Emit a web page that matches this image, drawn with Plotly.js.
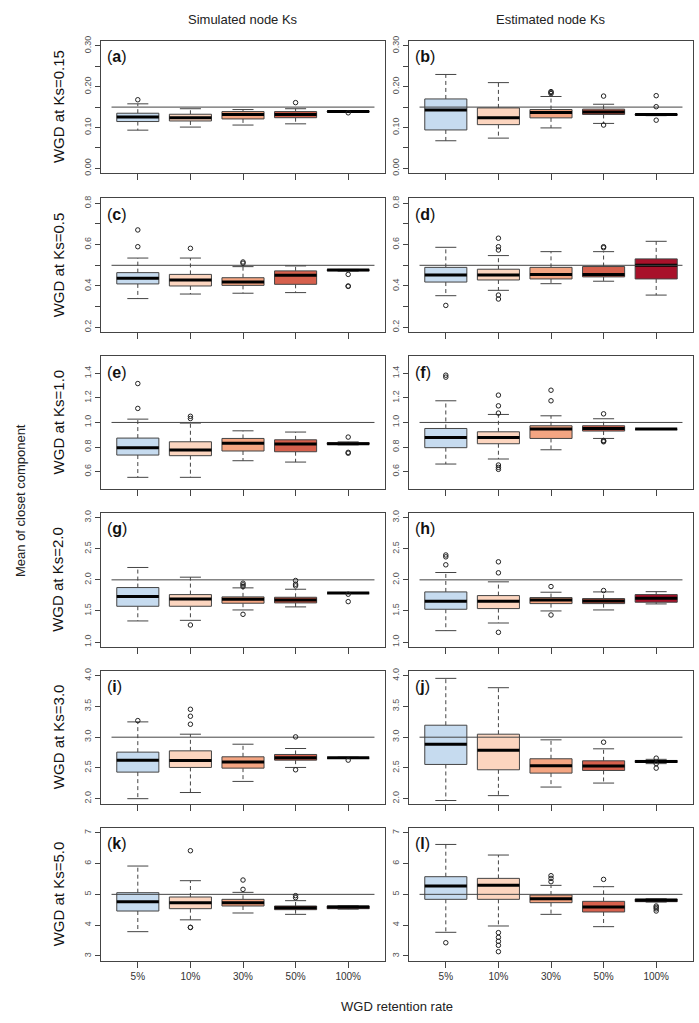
<!DOCTYPE html>
<html><head><meta charset="utf-8">
<script src="https://cdn.plot.ly/plotly-3.0.1.min.js"></script>
<style>html,body{margin:0;padding:0;background:#fff;} #plot{width:699px;height:1023px;}</style>
</head><body><div id="plot"></div>
<script>
// ---------------- DATA ----------------
const retention = ['5%', '10%', '30%', '50%', '100%'];
const ksLabels = ['WGD at Ks=0.15', 'WGD at Ks=0.5', 'WGD at Ks=1.0', 'WGD at Ks=2.0', 'WGD at Ks=3.0', 'WGD at Ks=5.0'];
const trueKs = [0.15, 0.5, 1.0, 2.0, 3.0, 5.0];
const columnTitles = ['Simulated node Ks', 'Estimated node Ks'];
const panelLetters = ['a','b','c','d','e','f','g','h','i','j','k','l'];

// Box stats per retention rate: [lower whisker, Q1, median, Q3, upper whisker]
const boxA = [[0.0935,0.1146,0.126,0.135,0.158],[0.101,0.116,0.1236,0.1325,0.146],[0.106,0.121,0.132,0.139,0.144],[0.109,0.124,0.132,0.139,0.146],[0.137,0.138,0.139,0.140,0.141]];
const outA = [[0.168],[],[],[0.161],[0.136]];
const boxB = [[0.0675,0.094,0.143,0.170,0.230],[0.074,0.107,0.124,0.148,0.210],[0.099,0.1236,0.137,0.144,0.176],[0.110,0.132,0.138,0.145,0.157],[0.129,0.130,0.132,0.133,0.134]];
const outB = [[],[],[0.183,0.186,0.188],[0.177,0.106],[0.178,0.151,0.118]];
const boxC = [[0.339,0.41,0.437,0.4645,0.535],[0.361,0.40,0.429,0.456,0.535],[0.365,0.403,0.419,0.440,0.4935],[0.368,0.408,0.452,0.473,0.497],[0.472,0.474,0.477,0.479,0.480]];
const outC = [[0.590,0.671],[0.582],[0.510,0.516],[],[0.456,0.398,0.400]];
const boxD = [[0.353,0.419,0.453,0.490,0.587],[0.379,0.429,0.453,0.481,0.547],[0.411,0.434,0.456,0.490,0.566],[0.423,0.444,0.456,0.494,0.566],[0.356,0.434,0.500,0.531,0.616]];
const outD = [[0.306],[0.631,0.590,0.574,0.356,0.337],[],[0.590,0.585],[]];
const boxE = [[0.554,0.735,0.795,0.873,1.027],[0.554,0.730,0.776,0.843,0.995],[0.689,0.768,0.830,0.870,0.932],[0.678,0.762,0.824,0.859,0.922],[0.818,0.822,0.827,0.835,0.842]];
const outE = [[1.114,1.316],[1.032,1.050],[],[],[0.881,0.757,0.750]];
const boxF = [[0.662,0.795,0.878,0.951,1.176],[0.703,0.827,0.878,0.924,1.065],[0.778,0.870,0.946,0.973,1.054],[0.870,0.930,0.951,0.973,1.030],[0.943,0.944,0.946,0.948,0.950]];
const outF = [[1.384,1.368],[1.222,1.135,1.076,0.654,0.635,0.619],[1.262,1.176],[1.070,0.854,0.843,0.848],[]];
const boxG = [[1.339,1.575,1.731,1.876,2.199],[1.349,1.575,1.694,1.763,2.043],[1.516,1.624,1.688,1.726,1.871],[1.565,1.629,1.677,1.720,1.849],[1.785,1.787,1.790,1.793,1.795]];
const outG = [[],[1.274],[1.946,1.919,1.892,1.446],[1.989,1.930,1.903],[1.769,1.650]];
const boxH = [[1.183,1.527,1.656,1.806,2.118],[1.306,1.538,1.656,1.747,1.968],[1.500,1.618,1.677,1.715,1.801],[1.516,1.618,1.661,1.699,1.806],[1.613,1.640,1.704,1.763,1.810]];
const outH = [[2.400,2.370,2.242],[2.290,2.113,1.156],[1.892,1.435],[1.828],[]];
const boxI = [[2.00,2.432,2.627,2.757,3.249],[2.10,2.508,2.620,2.778,3.049],[2.281,2.497,2.595,2.681,2.886],[2.508,2.627,2.665,2.719,2.816],[2.655,2.660,2.665,2.670,2.675]];
const outI = [[3.270],[3.454,3.341,3.211],[],[3.005,2.470],[2.627]];
const boxJ = [[1.97,2.557,2.886,3.195,3.957],[2.05,2.470,2.789,3.049,3.805],[2.189,2.416,2.535,2.649,2.957],[2.254,2.459,2.530,2.616,2.811],[2.570,2.589,2.605,2.622,2.640]];
const outJ = [[],[],[],[2.919],[2.659,2.570,2.497]];
const boxK = [[3.789,4.459,4.762,5.054,5.919],[4.173,4.535,4.730,4.914,5.443],[4.395,4.622,4.730,4.838,5.065],[4.351,4.503,4.568,4.622,4.795],[4.520,4.535,4.590,4.622,4.630]];
const outK = [[],[6.416,3.924,3.930],[5.465,5.162],[4.957,4.892],[]];
const boxL = [[3.768,4.838,5.270,5.573,6.620],[3.973,4.838,5.292,5.519,6.276],[4.351,4.730,4.860,4.978,5.292],[3.951,4.427,4.590,4.773,5.249],[4.750,4.762,4.805,4.849,4.860]];
const outL = [[3.430],[3.757,3.605,3.476,3.346,3.140],[5.605,5.519,5.410],[5.486],[4.622,4.580,4.530,4.460]];

// Y tick values and labels per row
const yTickVals = [[0,0.05,0.10,0.15,0.20,0.25,0.30],[0.2,0.3,0.4,0.5,0.6,0.7,0.8],[0.6,0.8,1.0,1.2,1.4],[1.0,1.5,2.0,2.5,3.0],[2.0,2.5,3.0,3.5,4.0],[3,4,5,6,7]];
const yTickText = [['0.00','','0.10','','0.20','','0.30'],['0.2','','0.4','','0.6','','0.8'],['0.6','0.8','1.0','1.2','1.4'],['1.0','1.5','2.0','2.5','3.0'],['2.0','2.5','3.0','3.5','4.0'],['3','4','5','6','7']];

// ---------------- STYLE / LAYOUT ----------------
const boxStats = [boxA,boxB,boxC,boxD,boxE,boxF,boxG,boxH,boxI,boxJ,boxK,boxL];
const outliers = [outA,outB,outC,outD,outE,outF,outG,outH,outI,outJ,outK,outL];
const fillColors = ['#c6dbef','#fcd5bf','#f4a582','#d6604d','#a8112a'];
const yRanges = [[-0.012,0.312],[0.176,0.824],[0.46,1.54],[0.92,3.08],[1.92,4.08],[2.84,7.16]];
const W = 699, H = 1023;
const colPx = [[101,385],[409,693]];
const rowPx = [[41,173.2],[198.3,332.3],[356,488.9],[512.7,647],[670.8,803.6],[827.8,960.9]];
const lineCol = '#444';
const FONT = 'Liberation Sans, Arial, Helvetica, sans-serif';

const traces = [];
const layout = {
  width: W, height: H, margin: {l:0,r:0,t:0,b:0},
  paper_bgcolor: '#fff', plot_bgcolor: '#fff', showlegend: false,
  font: {family: FONT, color: '#222'},
  annotations: []
};

for (let p = 0; p < 12; p++) {
  const row = Math.floor(p / 2), col = p % 2;
  const sfx = p === 0 ? '' : String(p + 1);
  const xa = 'x' + sfx, ya = 'y' + sfx;
  const stats = boxStats[p], outs = outliers[p];

  layout['xaxis' + sfx] = {
    domain: [colPx[col][0] / W, colPx[col][1] / W], range: [0.3, 5.7], anchor: ya,
    tickmode: 'array', tickvals: [1,2,3,4,5], ticktext: retention,
    showticklabels: row === 5, ticks: 'outside', ticklen: 6, tickcolor: lineCol, tickwidth: 1,
    showline: true, mirror: true, linecolor: lineCol, linewidth: 1,
    showgrid: false, zeroline: false, fixedrange: true,
    tickfont: {size: 10, color: '#333', family: FONT}
  };
  layout['yaxis' + sfx] = {
    domain: [1 - rowPx[row][1] / H, 1 - rowPx[row][0] / H], range: yRanges[row], anchor: xa,
    tickmode: 'array', tickvals: yTickVals[row], ticktext: yTickText[row], tickangle: -90,
    ticks: 'outside', ticklen: 5, tickcolor: lineCol, tickwidth: 1,
    showline: true, mirror: true, linecolor: lineCol, linewidth: 1,
    showgrid: false, zeroline: false, fixedrange: true,
    tickfont: {size: 9, color: '#555', family: FONT}
  };

  const wx = [], wy = [], cx = [], cy = [], mx = [], my = [];
  stats.forEach((s, i) => {
    const x = i + 1;
    wx.push(x, x, null, x, x, null); wy.push(s[3], s[4], null, s[1], s[0], null);
    cx.push(x - 0.2, x + 0.2, null, x - 0.2, x + 0.2, null); cy.push(s[4], s[4], null, s[0], s[0], null);
    mx.push(x - 0.4, x + 0.4, null); my.push(s[2], s[2], null);
  });
  traces.push({type:'scatter', mode:'lines', x: wx, y: wy, xaxis: xa, yaxis: ya,
    line: {color: lineCol, width: 1, dash: '4px,3px'}, hoverinfo: 'skip'});
  traces.push({type:'scatter', mode:'lines', x: cx, y: cy, xaxis: xa, yaxis: ya,
    line: {color: lineCol, width: 1}, hoverinfo: 'skip'});
  stats.forEach((s, i) => {
    const x = i + 1;
    traces.push({type:'scatter', mode:'lines', fill:'toself', fillcolor: fillColors[i],
      x: [x - 0.4, x + 0.4, x + 0.4, x - 0.4, x - 0.4], y: [s[1], s[1], s[3], s[3], s[1]],
      xaxis: xa, yaxis: ya, line: {color: lineCol, width: 1}, name: retention[i], hoverinfo: 'skip'});
  });
  traces.push({type:'scatter', mode:'lines', x: mx, y: my, xaxis: xa, yaxis: ya,
    line: {color: '#000', width: 3}, hoverinfo: 'skip'});
  traces.push({type:'scatter', mode:'lines', x: [0.5, 5.5], y: [trueKs[row], trueKs[row]], xaxis: xa, yaxis: ya,
    line: {color: lineCol, width: 1}, hoverinfo: 'skip'});
  const ox = [], oy = [];
  outs.forEach((arr, i) => arr.forEach(v => { ox.push(i + 1); oy.push(v); }));
  traces.push({type:'scatter', mode:'markers', x: ox, y: oy, xaxis: xa, yaxis: ya,
    marker: {symbol: 'circle-open', size: 4.5, color: '#222', line: {width: 1, color: '#222'}}, hoverinfo: 'skip'});

  layout.annotations.push({xref:'paper', yref:'paper', x: (colPx[col][0] + 4) / W, y: 1 - (rowPx[row][0] + 16) / H,
    xanchor:'left', yanchor:'middle', showarrow:false, text: '(<b>' + panelLetters[p] + '</b>)',
    font: {size: 16, color: '#111', family: FONT}});
  if (col === 0) {
    layout.annotations.push({xref:'paper', yref:'paper', x: 58 / W, y: 1 - (rowPx[row][0] + rowPx[row][1]) / 2 / H,
      xanchor:'center', yanchor:'middle', showarrow:false, textangle: -90, text: ksLabels[row],
      font: {size: 15, color: '#111', family: FONT}});
  }
}
columnTitles.forEach((t, c) => {
  layout.annotations.push({xref:'paper', yref:'paper', x: (colPx[c][0] + colPx[c][1]) / 2 / W, y: 1 - 20 / H,
    xanchor:'center', yanchor:'middle', showarrow:false, text: t, font: {size: 13, color: '#222', family: FONT}});
});
layout.annotations.push({xref:'paper', yref:'paper', x: 20 / W, y: 1 - 501 / H, xanchor:'center', yanchor:'middle',
  showarrow:false, textangle: -90, text: 'Mean of closet component', font: {size: 13, color: '#222', family: FONT}});
layout.annotations.push({xref:'paper', yref:'paper', x: 397 / W, y: 1 - 1006 / H, xanchor:'center', yanchor:'middle',
  showarrow:false, text: 'WGD retention rate', font: {size: 13, color: '#222', family: FONT}});

Plotly.newPlot('plot', traces, layout, {staticPlot: true});
</script></body></html>
